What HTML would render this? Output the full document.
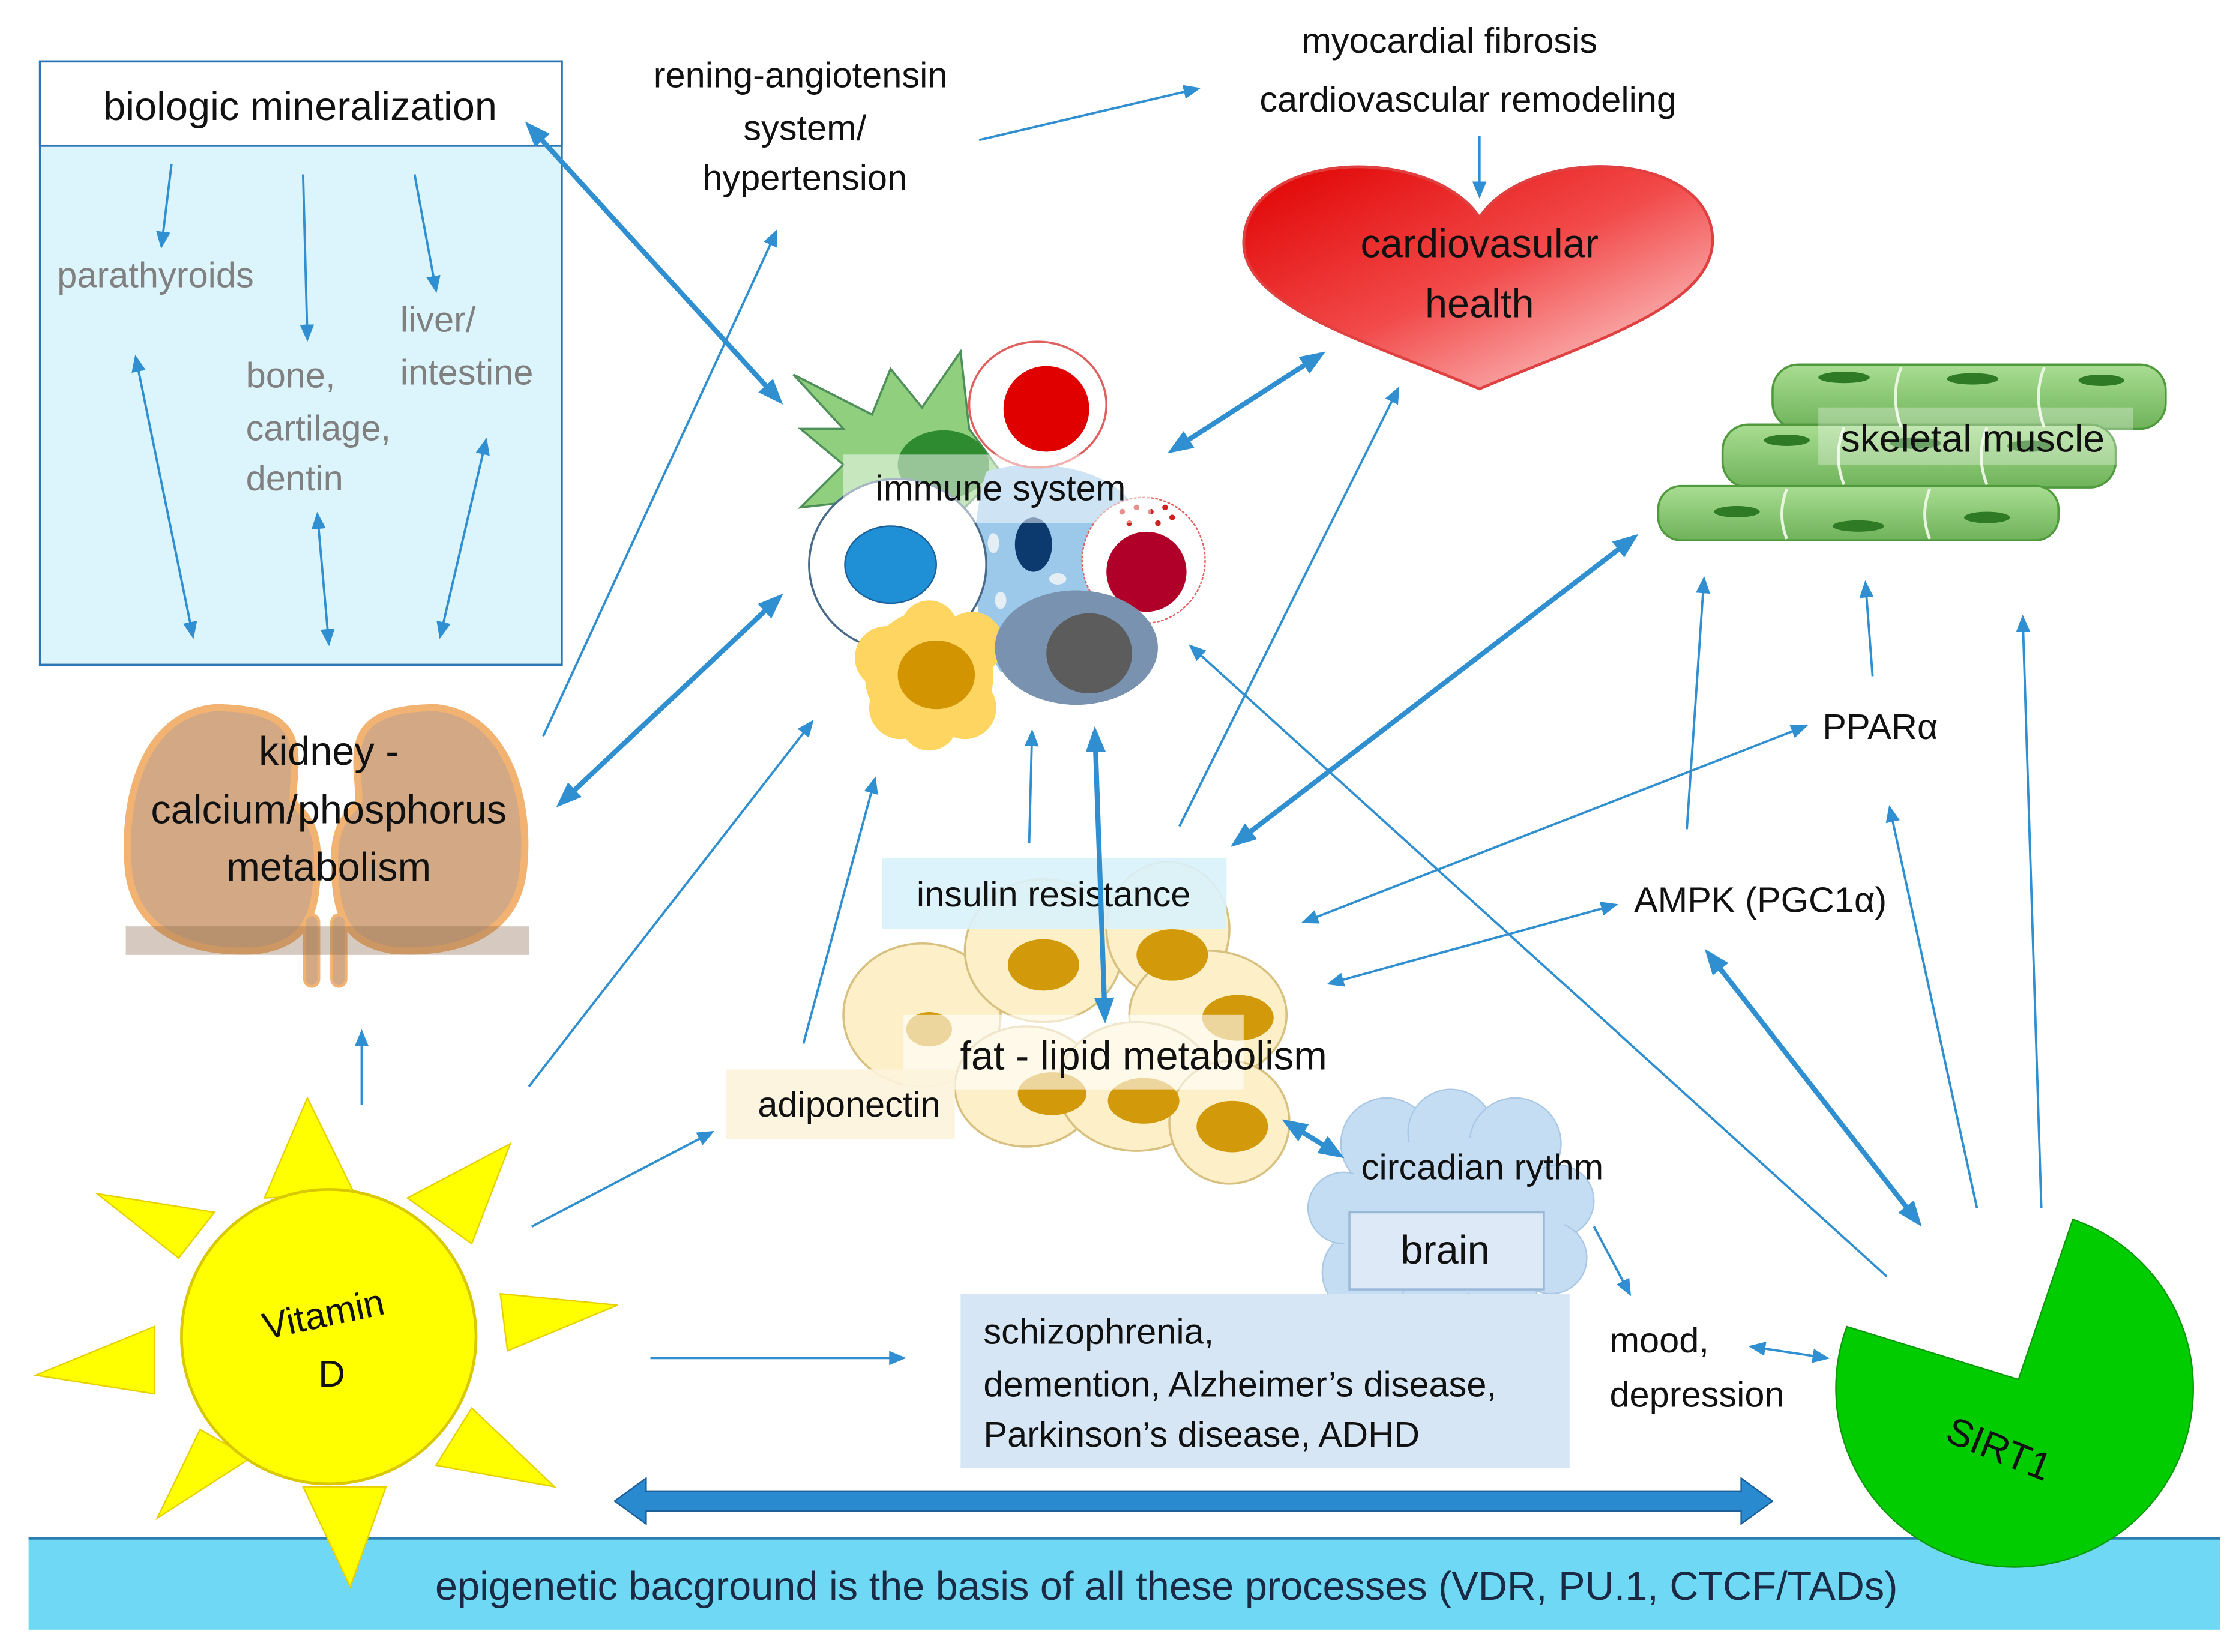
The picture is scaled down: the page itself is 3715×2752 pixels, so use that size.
<!DOCTYPE html>
<html><head><meta charset="utf-8"><style>
html,body{margin:0;padding:0;background:#fff;}
svg{display:block;}
text{font-family:"Liberation Sans","DejaVu Sans",sans-serif;}
</style></head><body>
<svg width="3715" height="2752" viewBox="0 0 1560 1155.6" xmlns="http://www.w3.org/2000/svg">
<defs>
<marker id="a" markerWidth="12" markerHeight="10" refX="10" refY="5" orient="auto-start-reverse" markerUnits="userSpaceOnUse"><path d="M0,0 L12,5 L0,10 z" fill="#2f8fd0"/></marker>
<marker id="b" markerWidth="18" markerHeight="14" refX="14" refY="7" orient="auto-start-reverse" markerUnits="userSpaceOnUse"><path d="M0,0 L18,7 L0,14 z" fill="#2f8fd0"/></marker>
<linearGradient id="hg" x1="0" y1="0" x2="1" y2="1"><stop offset="0" stop-color="#e00000"/><stop offset="0.5" stop-color="#f24a4a"/><stop offset="1" stop-color="#ffe6e6"/></linearGradient>
<linearGradient id="mg" x1="0" y1="0" x2="0" y2="1"><stop offset="0" stop-color="#a9dd92"/><stop offset="1" stop-color="#6fb35a"/></linearGradient>
</defs>

<rect x="20" y="1076" width="1533" height="64" fill="#6fd9f5"/>
<line x1="20" y1="1076" x2="1553" y2="1076" stroke="#2a7db0" stroke-width="2"/>
<text x="816" y="1119" font-size="28" text-anchor="middle" fill="#1a2a44">epigenetic bacground is the basis of all these processes (VDR, PU.1, CTCF/TADs)</text>

<path d="M430,1050 L452,1034 L452,1043 L1218,1043 L1218,1034 L1240,1050 L1218,1066 L1218,1057 L452,1057 L452,1066 Z" fill="#2a8ad0" stroke="#1d5f99" stroke-width="1"/>

<rect x="28" y="43" width="365" height="422" fill="#dcf4fc" stroke="#2e75b6" stroke-width="1.5"/>
<rect x="28" y="43" width="365" height="59" fill="#fff" stroke="#2e75b6" stroke-width="1.5"/>
<text x="210" y="84" font-size="28" text-anchor="middle" fill="#111">biologic mineralization</text>
<g font-size="25" fill="#808080">
<text x="40" y="201">parathyroids</text>
<text x="280" y="232">liver/</text>
<text x="280" y="269">intestine</text>
<text x="172" y="271">bone,</text>
<text x="172" y="308">cartilage,</text>
<text x="172" y="343">dentin</text>
</g>

<g opacity="0.8">
<path d="M150,495 C100,500 85,560 90,610 C95,650 130,668 180,665 C215,660 222,640 222,600 C222,570 205,565 205,560 C205,530 220,495 150,495Z" fill="#c79466" stroke="#f0a050" stroke-width="5"/>
<path d="M305,495 C355,500 372,560 366,610 C361,650 326,668 276,665 C241,660 234,640 234,600 C234,570 251,565 251,560 C251,530 236,495 305,495Z" fill="#c79466" stroke="#f0a050" stroke-width="5"/>
<rect x="213" y="640" width="10" height="50" rx="5" fill="#c79466" stroke="#f0a050" stroke-width="2"/>
<rect x="232" y="640" width="10" height="50" rx="5" fill="#c79466" stroke="#f0a050" stroke-width="2"/>
</g>
<rect x="88" y="648" width="282" height="20" fill="#8a6448" opacity="0.35"/>
<g font-size="28" fill="#111" text-anchor="middle">
<text x="230" y="535">kidney -</text>
<text x="230" y="576">calcium/phosphorus</text>
<text x="230" y="616">metabolism</text>
</g>

<g font-size="25" fill="#111" text-anchor="middle">
<text x="560" y="61">rening-angiotensin</text>
<text x="563" y="98">system/</text>
<text x="563" y="133">hypertension</text>
<text x="1014" y="37">myocardial fibrosis</text>
<text x="1027" y="78">cardiovascular remodeling</text>
</g>

<path d="M1035,152 C1000,100 870,105 870,170 C870,215 960,240 1035,272 C1110,240 1198,215 1198,168 C1198,105 1070,100 1035,152Z" fill="url(#hg)" stroke="#e04040" stroke-width="2"/>
<text x="1035" y="180" font-size="28" text-anchor="middle" fill="#111">cardiovasular</text>
<text x="1035" y="222" font-size="28" text-anchor="middle" fill="#111">health</text>

<g stroke="#4f9a3c" stroke-width="1.5">
<rect x="1240" y="255" width="275" height="45" rx="18" fill="url(#mg)"/>
<rect x="1205" y="297" width="275" height="44" rx="18" fill="url(#mg)"/>
<rect x="1160" y="340" width="280" height="38" rx="16" fill="url(#mg)"/>
</g>
<g fill="#2f7a25">
<ellipse cx="1290" cy="264" rx="18" ry="4"/><ellipse cx="1380" cy="265" rx="18" ry="4"/><ellipse cx="1470" cy="266" rx="16" ry="4"/>
<ellipse cx="1250" cy="308" rx="16" ry="4"/><ellipse cx="1340" cy="310" rx="18" ry="4"/><ellipse cx="1420" cy="312" rx="16" ry="4"/>
<ellipse cx="1215" cy="358" rx="16" ry="4"/><ellipse cx="1300" cy="368" rx="18" ry="4"/><ellipse cx="1390" cy="362" rx="16" ry="4"/>
</g>
<g stroke="#e8f5e0" stroke-width="2" fill="none">
<path d="M1330,257 q-8,20 0,42"/><path d="M1430,257 q-8,20 0,42"/><path d="M1290,299 q-8,20 0,40"/><path d="M1390,299 q-8,20 0,40"/><path d="M1250,342 q-7,18 0,35"/><path d="M1350,342 q-7,18 0,35"/>
</g>
<rect x="1272" y="285" width="220" height="40" fill="#fff" opacity="0.3"/>
<text x="1380" y="316" font-size="27" text-anchor="middle" fill="#111">skeletal muscle</text>

<path d="M555,262 L610,290 L623,258 L645,285 L672,246 L678,300 L700,330 L670,360 L640,355 L605,350 L560,355 L590,325 L560,300 L590,300Z" fill="#8fcf7e" stroke="#4f8f5a" stroke-width="1.5"/>
<ellipse cx="660" cy="325" rx="32" ry="24" fill="#2e8b30"/>
<path d="M690,330 C720,320 770,325 790,350 C800,400 800,440 760,470 L700,470 C680,440 675,380 690,330Z" fill="#9cc8ea"/>
<ellipse cx="723" cy="381" rx="13" ry="19" fill="#0d3a6e"/>
<g fill="#e6eef5"><ellipse cx="695" cy="380" rx="4" ry="7"/><ellipse cx="740" cy="405" rx="6" ry="4"/><ellipse cx="700" cy="420" rx="4" ry="6"/><ellipse cx="715" cy="440" rx="4" ry="6"/></g>
<ellipse cx="726" cy="283" rx="48" ry="44" fill="#fff" stroke="#e06060" stroke-width="1.5"/>
<ellipse cx="732" cy="286" rx="30" ry="30" fill="#e00000"/>
<ellipse cx="628" cy="395" rx="62" ry="60" fill="#fff" stroke="#4a6a8a" stroke-width="1.5"/>
<ellipse cx="623" cy="395" rx="32" ry="27" fill="#1f8fd6" stroke="#1a5f99" stroke-width="1"/>
<ellipse cx="800" cy="392" rx="43" ry="44" fill="#fff" stroke="#e06060" stroke-width="1" stroke-dasharray="2,1"/>
<ellipse cx="802" cy="400" rx="28" ry="28" fill="#b0002a"/>
<g fill="#d02020"><circle cx="785" cy="358" r="2"/><circle cx="795" cy="355" r="2"/><circle cx="805" cy="358" r="2"/><circle cx="815" cy="355" r="2"/><circle cx="790" cy="366" r="2"/><circle cx="810" cy="366" r="2"/><circle cx="820" cy="362" r="2"/></g>
<g fill="#ffd561"><circle cx="650" cy="472" r="45"/><circle cx="620" cy="460" r="22"/><circle cx="680" cy="450" r="22"/><circle cx="630" cy="495" r="22"/><circle cx="675" cy="495" r="22"/><circle cx="650" cy="440" r="20"/><circle cx="650" cy="505" r="20"/></g>
<ellipse cx="655" cy="472" rx="27" ry="24" fill="#d29400"/>
<ellipse cx="753" cy="453" rx="57" ry="40" fill="#7892b0"/>
<ellipse cx="762" cy="457" rx="30" ry="28" fill="#5c5c5c"/>
<rect x="590" y="318" width="215" height="48" fill="#fff" opacity="0.5"/>
<text x="700" y="350" font-size="25" text-anchor="middle" fill="#111">immune system</text>

<g fill="#fdf0c8" stroke="#d8c080" stroke-width="1.5">
<ellipse cx="645" cy="710" rx="55" ry="50"/>
<ellipse cx="730" cy="665" rx="55" ry="50"/>
<ellipse cx="817" cy="650" rx="43" ry="47"/>
<ellipse cx="845" cy="710" rx="55" ry="45"/>
<ellipse cx="718" cy="760" rx="50" ry="42"/>
<ellipse cx="795" cy="760" rx="55" ry="45"/>
<ellipse cx="860" cy="785" rx="42" ry="43"/>
</g>
<g fill="#d29a0a">
<ellipse cx="650" cy="720" rx="16" ry="12"/><ellipse cx="730" cy="675" rx="25" ry="18"/><ellipse cx="820" cy="668" rx="25" ry="18"/>
<ellipse cx="866" cy="712" rx="25" ry="16"/><ellipse cx="736" cy="765" rx="24" ry="15"/><ellipse cx="800" cy="770" rx="25" ry="16"/><ellipse cx="862" cy="788" rx="25" ry="18"/>
</g>
<rect x="617" y="600" width="241" height="50" fill="#d9f2fb" opacity="0.9"/>
<text x="737" y="634" font-size="25" text-anchor="middle" fill="#111">insulin resistance</text>
<rect x="632" y="710" width="238" height="52" fill="#fff" opacity="0.6"/>
<text x="800" y="748" font-size="28" text-anchor="middle" fill="#111">fat - lipid metabolism</text>
<rect x="508" y="748" width="160" height="49" fill="#fdf3dd" opacity="0.9"/>
<text x="594" y="781" font-size="25" text-anchor="middle" fill="#111">adiponectin</text>

<g fill="#c5ddf2" stroke="#a9c8e6" stroke-width="1">
<circle cx="970" cy="800" r="32"/><circle cx="1015" cy="792" r="30"/><circle cx="1060" cy="800" r="32"/><circle cx="1090" cy="840" r="25"/><circle cx="1085" cy="880" r="25"/><circle cx="1050" cy="905" r="25"/><circle cx="1000" cy="910" r="28"/><circle cx="955" cy="890" r="30"/><circle cx="940" cy="845" r="25"/>
<ellipse cx="1015" cy="850" rx="80" ry="55" stroke="none"/>
</g>
<text x="1037" y="825" font-size="25" text-anchor="middle" fill="#111">circadian rythm</text>
<rect x="944" y="848" width="136" height="54" fill="#dde9f6" stroke="#9ab8d8" stroke-width="1.5"/>
<text x="1011" y="884" font-size="28" text-anchor="middle" fill="#111">brain</text>

<rect x="672" y="905" width="426" height="122" fill="#d6e6f5"/>
<g font-size="25" fill="#111">
<text x="688" y="940">schizophrenia,</text>
<text x="688" y="977">demention, Alzheimer’s disease,</text>
<text x="688" y="1012">Parkinson’s disease, ADHD</text>
<text x="1126" y="946">mood,</text>
<text x="1126" y="984">depression</text>
<text x="1275" y="517">PPARα</text>
<text x="1143" y="638">AMPK (PGC1α)</text>
</g>

<g fill="#ffff00" stroke="#e8d000" stroke-width="1">
<polygon points="185,838 215,768 248,835"/>
<polygon points="285,838 357,800 330,870"/>
<polygon points="350,905 432,913 355,945"/>
<polygon points="330,985 388,1040 305,1025"/>
<polygon points="270,1040 245,1110 212,1040"/>
<polygon points="175,1020 110,1062 140,1000"/>
<polygon points="108,975 25,962 108,928"/>
<polygon points="125,880 68,835 150,848"/>
</g>
<circle cx="230" cy="935" r="103" fill="#ffff00" stroke="#d9c800" stroke-width="2"/>
<text x="228" y="928" font-size="26" text-anchor="middle" fill="#111" transform="rotate(-12 228 928)">Vitamin</text>
<text x="232" y="970" font-size="26" text-anchor="middle" fill="#111">D</text>

<path d="M1412,965 L1450,853 A125,125 0 1 1 1292,928 Z" fill="#00cc00" stroke="#0a9a0a" stroke-width="1"/>
<text x="1395" y="1022" font-size="27" text-anchor="middle" fill="#111" transform="rotate(22 1395 1022)">SIRT1</text>

<g stroke="#2f8fd0" stroke-width="1.6" fill="none" marker-end="url(#a)">
<line x1="120" y1="115" x2="113" y2="172"/>
<line x1="212" y1="122" x2="215" y2="237"/>
<line x1="290" y1="122" x2="305" y2="203"/>
<line x1="380" y1="515" x2="543" y2="162"/>
<line x1="370" y1="760" x2="568" y2="505"/>
<line x1="562" y1="730" x2="612" y2="545"/>
<line x1="720" y1="590" x2="722" y2="512"/>
<line x1="685" y1="98" x2="838" y2="62"/>
<line x1="1035" y1="95" x2="1035" y2="137"/>
<line x1="825" y1="578" x2="978" y2="272"/>
<line x1="1320" y1="893" x2="833" y2="452"/>
<line x1="1180" y1="580" x2="1192" y2="405"/>
<line x1="1310" y1="473" x2="1305" y2="408"/>
<line x1="1383" y1="845" x2="1322" y2="565"/>
<line x1="1428" y1="845" x2="1415" y2="432"/>
<line x1="253" y1="773" x2="253" y2="722"/>
<line x1="372" y1="858" x2="498" y2="792"/>
<line x1="455" y1="950" x2="632" y2="950"/>
<line x1="1115" y1="858" x2="1140" y2="905"/>
</g>
<g stroke="#2f8fd0" stroke-width="1.6" fill="none" marker-start="url(#a)" marker-end="url(#a)">
<line x1="95" y1="250" x2="135" y2="445"/>
<line x1="222" y1="360" x2="230" y2="450"/>
<line x1="340" y1="308" x2="308" y2="445"/>
<line x1="912" y1="645" x2="1263" y2="508"/>
<line x1="930" y1="688" x2="1130" y2="633"/>
<line x1="1225" y1="942" x2="1278" y2="950"/>
</g>
<g stroke="#2f8fd0" stroke-width="3.5" fill="none" marker-start="url(#b)" marker-end="url(#b)">
<line x1="370" y1="88" x2="545" y2="280"/>
<line x1="392" y1="562" x2="545" y2="418"/>
<line x1="766" y1="512" x2="773" y2="712"/>
<line x1="820" y1="315" x2="924" y2="248"/>
<line x1="864" y1="590" x2="1143" y2="376"/>
<line x1="1195" y1="667" x2="1342" y2="855"/>
<line x1="900" y1="785" x2="937" y2="808"/>
</g>
</svg>
</body></html>
